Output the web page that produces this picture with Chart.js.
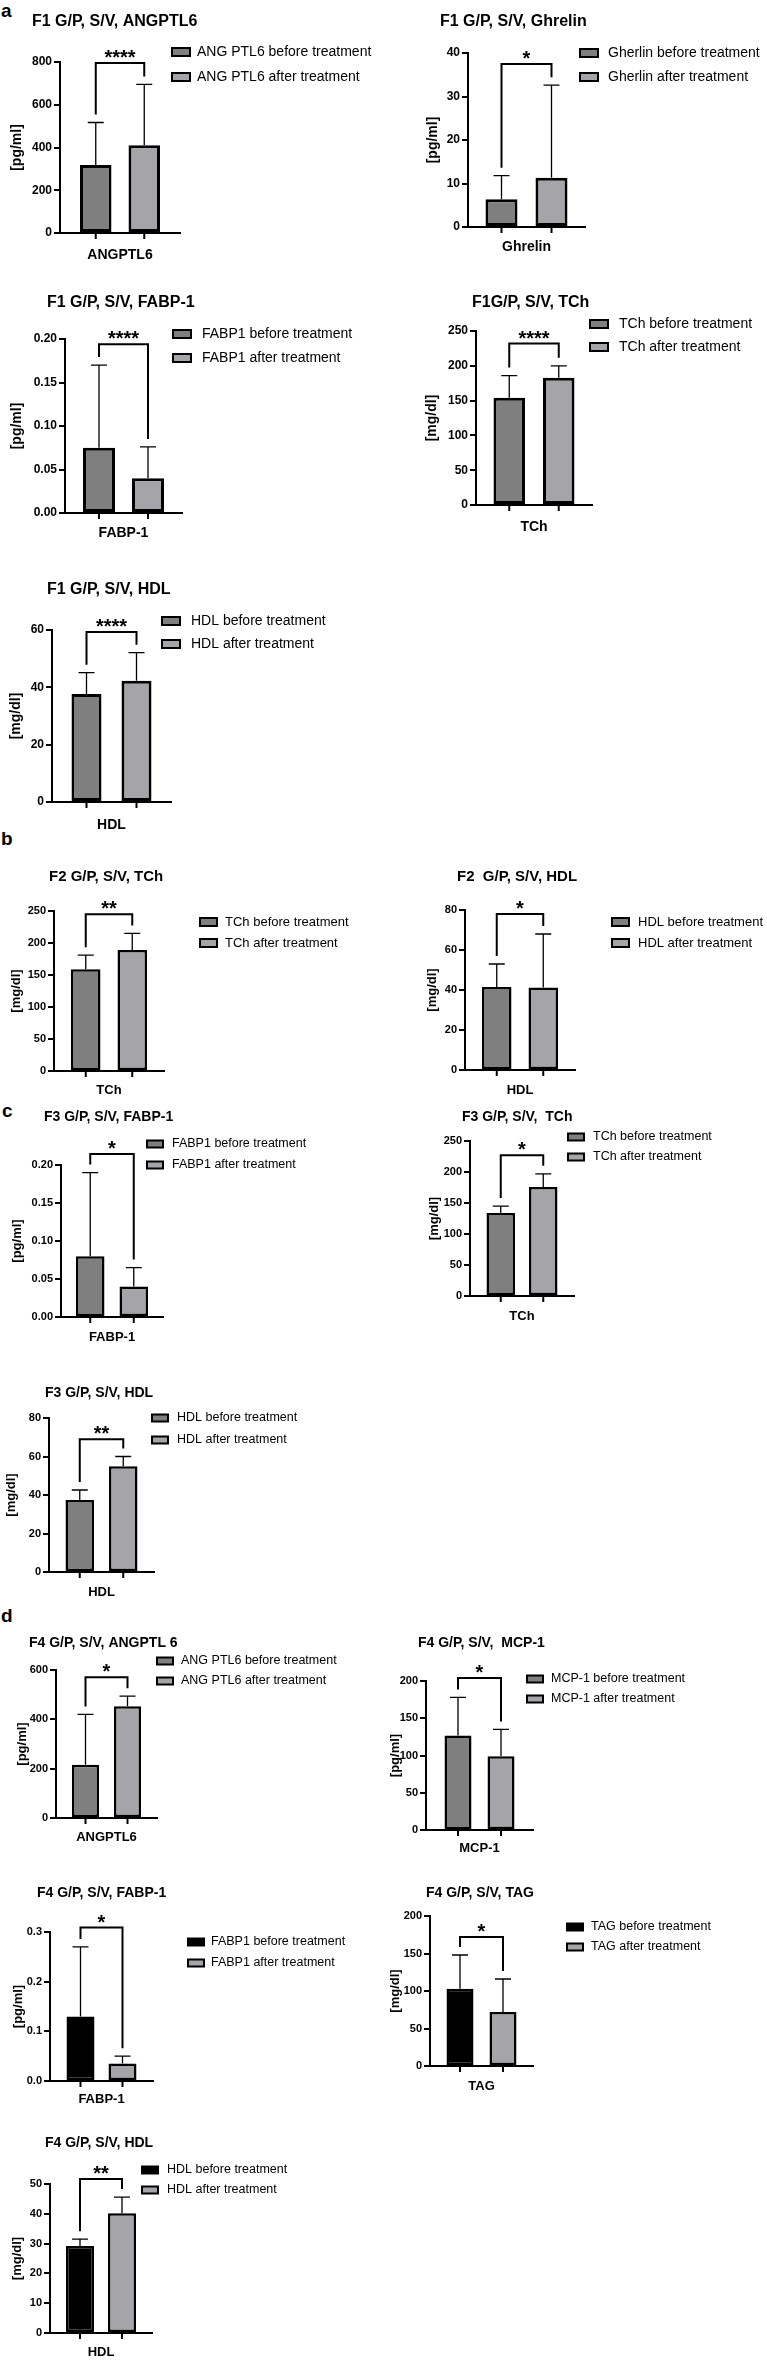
<!DOCTYPE html>
<html lang="en">
<head>
<meta charset="UTF-8">
<title>G/P, S/V markers before and after treatment</title>
<style>
  html, body { margin: 0; padding: 0; background: #fff; }
  body {
    width: 767px;
    height: 2361px;
    position: relative;
    overflow: hidden;
    font-family: "Liberation Sans", Arial, sans-serif;
  }
  .letter {
    position: absolute;
    font-weight: bold;
    font-size: 19px;
    line-height: 19px;
    color: #000;
  }
  canvas { position: absolute; }
</style>
</head>
<body>
<div class="letter" style="left:1px;top:1px">a</div>
<div class="letter" style="left:1px;top:829px">b</div>
<div class="letter" style="left:2px;top:1101px">c</div>
<div class="letter" style="left:1px;top:1606px">d</div>

<script src="https://cdn.jsdelivr.net/npm/chart.js"></script>
<script>
// ---- data ----
const titles = [
  'F1 G/P, S/V, ANGPTL6', 'F1 G/P, S/V, Ghrelin', 'F1 G/P, S/V, FABP-1', 'F1G/P, S/V, TCh', 'F1 G/P, S/V, HDL',
  'F2 G/P, S/V, TCh', 'F2  G/P, S/V, HDL',
  'F3 G/P, S/V, FABP-1', 'F3 G/P, S/V,  TCh', 'F3 G/P, S/V, HDL',
  'F4 G/P, S/V, ANGPTL 6', 'F4 G/P, S/V,  MCP-1', 'F4 G/P, S/V, FABP-1', 'F4 G/P, S/V, TAG', 'F4 G/P, S/V, HDL'
];
const categories = ['ANGPTL6', 'Ghrelin', 'FABP-1', 'TCh', 'HDL', 'TCh', 'HDL', 'FABP-1', 'TCh', 'HDL',
  'ANGPTL6', 'MCP-1', 'FABP-1', 'TAG', 'HDL'];
const units = ['[pg/ml]', '[pg/ml]', '[pg/ml]', '[mg/dl]', '[mg/dl]', '[mg/dl]', '[mg/dl]', '[pg/ml]',
  '[mg/dl]', '[mg/dl]', '[pg/ml]', '[pg/ml]', '[pg/ml]', '[mg/dl]', '[mg/dl]'];
const legendNames = ['ANG PTL6', 'Gherlin', 'FABP1', 'TCh', 'HDL', 'TCh', 'HDL', 'FABP1', 'TCh', 'HDL',
  'ANG PTL6', 'MCP-1', 'FABP1', 'TAG', 'HDL'];

const beforeMeans = [318, 6.4, 0.075, 154, 37.7, 159, 41.5, 0.08, 134, 37.4, 216, 127, 0.13, 103, 29.2];
const beforeSD    = [199, 5.4, 0.095, 32, 7.4, 22, 11.5, 0.11, 11, 5.2, 204, 51, 0.14, 45, 2.3];
const afterMeans  = [411, 11.3, 0.040, 183, 42.3, 189, 41.3, 0.04, 176, 55, 453, 99, 0.035, 72, 40.2];
const afterSD     = [284, 21.3, 0.036, 17, 9.8, 26, 26.7, 0.025, 21, 5, 41, 36, 0.015, 44, 5.4];

const significance  = ['****', '*', '****', '****', '****', '**', '*', '*', '*', '**', '*', '*', '*', '*', '**'];
const bracketLevels = [795, 37.5, 0.194, 232, 59.3, 245, 78, 0.2145, 227, 69, 571, 204, 0.309, 172, 51.7];

const yMax      = [800, 40, 0.20, 250, 60, 250, 80, 0.20, 250, 80, 600, 200, 0.3, 200, 50];
const yStep     = [200, 10, 0.05, 50, 20, 50, 20, 0.05, 50, 20, 200, 50, 0.1, 50, 10];
const yDecimals = [0, 0, 2, 0, 0, 0, 0, 2, 0, 0, 0, 0, 1, 0, 0];

// ---- layout (page pixels) ----
const layout = [
  {axL: 60,  axR: 180, pTop: 62,   pZero: 233,  titleX: 32,  titleY: 22,   yTitleX: 17,  legBox: 172, legText: 197, legY: [52, 77],     catY: 255,  gap: 48.5, barW: 31.5, st: 'a'},
  {axL: 468, axR: 585, pTop: 53,   pZero: 227,  titleX: 440, titleY: 22,   yTitleX: 433, legBox: 580, legText: 608, legY: [53, 77],     catY: 247,  gap: 50,   barW: 32,   st: 'a'},
  {axL: 65,  axR: 182, pTop: 339,  pZero: 513,  titleX: 47,  titleY: 303,  yTitleX: 17,  legBox: 173, legText: 202, legY: [334, 358],   catY: 533,  gap: 49,   barW: 32,   st: 'a'},
  {axL: 476, axR: 592, pTop: 331,  pZero: 505,  titleX: 472, titleY: 303,  yTitleX: 432, legBox: 590, legText: 619, legY: [324, 347],   catY: 527,  gap: 49.5, barW: 31.5, st: 'a'},
  {axL: 52,  axR: 171, pTop: 630,  pZero: 802,  titleX: 47,  titleY: 590,  yTitleX: 16,  legBox: 162, legText: 191, legY: [621, 644],   catY: 825,  gap: 50,   barW: 30,   st: 'a'},
  {axL: 54,  axR: 164, pTop: 911,  pZero: 1071, titleX: 49,  titleY: 877,  yTitleX: 16,  legBox: 200, legText: 225, legY: [922, 943],   catY: 1090, gap: 46.5, barW: 29.5, st: 'b'},
  {axL: 465, axR: 575, pTop: 910,  pZero: 1070, titleX: 457, titleY: 877,  yTitleX: 432, legBox: 612, legText: 638, legY: [922, 943],   catY: 1090, gap: 46.5, barW: 29.5, st: 'b'},
  {axL: 61,  axR: 163, pTop: 1165, pZero: 1317, titleX: 44,  titleY: 1117, yTitleX: 17,  legBox: 147, legText: 172, legY: [1144, 1165], catY: 1337, gap: 43.5, barW: 28.5, st: 'c'},
  {axL: 470, axR: 574, pTop: 1141, pZero: 1296, titleX: 462, titleY: 1117, yTitleX: 434, legBox: 568, legText: 593, legY: [1137, 1157], catY: 1316, gap: 42.5, barW: 28.5, st: 'c'},
  {axL: 49,  axR: 154, pTop: 1418, pZero: 1572, titleX: 45,  titleY: 1393, yTitleX: 11,  legBox: 152, legText: 177, legY: [1418, 1440], catY: 1592, gap: 43.5, barW: 28.5, st: 'c'},
  {axL: 56,  axR: 157, pTop: 1670, pZero: 1818, titleX: 29,  titleY: 1643, yTitleX: 22,  legBox: 157, legText: 181, legY: [1661, 1681], catY: 1837, gap: 42,   barW: 27,   st: 'c'},
  {axL: 426, axR: 533, pTop: 1681, pZero: 1830, titleX: 418, titleY: 1643, yTitleX: 395, legBox: 527, legText: 551, legY: [1679, 1699], catY: 1848, gap: 43,   barW: 27,   st: 'c'},
  {axL: 50,  axR: 153, pTop: 1932, pZero: 2081, titleX: 37,  titleY: 1893, yTitleX: 18,  legBox: 188, legText: 211, legY: [1942, 1963], catY: 2099, gap: 42,   barW: 28,   st: 'c', dark: true},
  {axL: 430, axR: 533, pTop: 1916, pZero: 2066, titleX: 426, titleY: 1893, yTitleX: 395, legBox: 567, legText: 591, legY: [1927, 1947], catY: 2086, gap: 43,   barW: 27,   st: 'c', dark: true},
  {axL: 50,  axR: 152, pTop: 2184, pZero: 2333, titleX: 45,  titleY: 2143, yTitleX: 17,  legBox: 142, legText: 167, legY: [2170, 2190], catY: 2352, gap: 42,   barW: 28,   st: 'c', dark: true}
];

const styles = {
  a: {title: 16, legend: 14,   tick: 12, yTitle: 14, cat: 14, border: 3,   box: [18, 8]},
  b: {title: 15, legend: 13,   tick: 11, yTitle: 13, cat: 13, border: 2.5, box: [17, 8]},
  c: {title: 14, legend: 12.5, tick: 11, yTitle: 13, cat: 13, border: 2.5, box: [16, 7]}
};

const FONT = '"Liberation Sans", Arial, sans-serif';
const GRAY_DARK = '#7f7f7f';
const GRAY_LIGHT = '#a5a5a9';
Chart.defaults.font.family = FONT;
Chart.defaults.color = '#000';

// error bars, bracket, x ticks, title and legend
const decor = {
  id: 'decor',
  afterDatasetsDraw(chart, args, opts) {
    const i = opts.index;
    const y = chart.scales.y;
    const ctx = chart.ctx;
    const means = [beforeMeans[i], afterMeans[i]];
    const sds = [beforeSD[i], afterSD[i]];
    const bars = [0, 1].map(k => chart.getDatasetMeta(k).data[0]);
    const tops = bars.map((b, k) => y.getPixelForValue(means[k] + sds[k]));

    ctx.save();
    ctx.strokeStyle = '#000';
    ctx.lineWidth = 1.3;
    bars.forEach((b, k) => {
      ctx.beginPath();
      ctx.moveTo(b.x, b.y);
      ctx.lineTo(b.x, tops[k]);
      ctx.moveTo(b.x - 8, tops[k]);
      ctx.lineTo(b.x + 8, tops[k]);
      ctx.stroke();
    });

    // tick marks under each bar
    ctx.lineWidth = 2;
    const bottom = chart.chartArea.bottom;
    bars.forEach(b => {
      ctx.beginPath();
      ctx.moveTo(b.x, bottom);
      ctx.lineTo(b.x, bottom + 6);
      ctx.stroke();
    });

    // significance bracket
    const by = y.getPixelForValue(bracketLevels[i]);
    ctx.beginPath();
    ctx.moveTo(bars[0].x, tops[0] - 8);
    ctx.lineTo(bars[0].x, by);
    ctx.lineTo(bars[1].x, by);
    ctx.lineTo(bars[1].x, tops[1] - 8);
    ctx.stroke();
    ctx.fillStyle = '#000';
    ctx.font = 'bold 20px ' + FONT;
    ctx.textAlign = 'center';
    ctx.textBaseline = 'alphabetic';
    ctx.fillText(significance[i], (bars[0].x + bars[1].x) / 2, by + 1);
    ctx.restore();
  },
  afterDraw(chart, args, opts) {
    const i = opts.index;
    const L = layout[i];
    const st = styles[L.st];
    const ctx = chart.ctx;
    ctx.save();
    ctx.fillStyle = '#000';
    ctx.textAlign = 'left';
    ctx.textBaseline = 'middle';
    ctx.font = 'bold ' + st.title + 'px ' + FONT;
    ctx.fillText(titles[i], L.titleX - opts.left, L.titleY - opts.top);

    ctx.font = st.legend + 'px ' + FONT;
    chart.data.datasets.forEach((ds, k) => {
      const yy = L.legY[k] - opts.top;
      const bx = L.legBox - opts.left;
      ctx.fillStyle = ds.backgroundColor;
      ctx.fillRect(bx, yy - st.box[1] / 2, st.box[0], st.box[1]);
      ctx.strokeStyle = '#000';
      ctx.lineWidth = 2;
      ctx.strokeRect(bx, yy - st.box[1] / 2, st.box[0], st.box[1]);
      ctx.fillStyle = '#000';
      ctx.fillText(ds.label, L.legText - opts.left, yy);
    });
    ctx.restore();
  }
};

layout.forEach((L, i) => {
  const st = styles[L.st];
  const left = L.axL < 380 ? 0 : 380;
  const width = left === 0 ? 380 : 387;
  const top = L.titleY - 14;
  const height = Math.min(L.catY + 13, 2361) - top;
  const W = L.axR - L.axL;

  const cv = document.createElement('canvas');
  cv.width = width;
  cv.height = height;
  cv.style.left = left + 'px';
  cv.style.top = top + 'px';
  cv.style.width = width + 'px';
  cv.style.height = height + 'px';
  document.body.appendChild(cv);

  new Chart(cv, {
    type: 'bar',
    data: {
      labels: [categories[i]],
      datasets: [
        {
          label: legendNames[i] + ' before treatment',
          data: [beforeMeans[i]],
          backgroundColor: L.dark ? '#000000' : GRAY_DARK
        },
        {
          label: legendNames[i] + ' after treatment',
          data: [afterMeans[i]],
          backgroundColor: GRAY_LIGHT
        }
      ]
    },
    options: {
      responsive: false,
      animation: false,
      devicePixelRatio: 1,
      events: [],
      layout: {
        padding: {top: L.pTop - top, left: 0, bottom: 0, right: width - (L.axR - left)}
      },
      datasets: {
        bar: {
          categoryPercentage: 2 * L.gap / W,
          barPercentage: L.barW / L.gap,
          borderColor: '#000',
          borderWidth: st.border,
          borderSkipped: false
        }
      },
      plugins: {
        legend: {display: false},
        tooltip: {enabled: false},
        decor: {index: i, left: left, top: top}
      },
      scales: {
        x: {
          ticks: {
            font: {size: st.cat, weight: 'bold'},
            color: '#000',
            padding: L.catY - L.pZero - st.cat * 0.6
          },
          grid: {display: false, drawTicks: false},
          border: {display: true, color: '#000', width: 2},
          afterFit: s => { s.height = height - (L.pZero - top); }
        },
        y: {
          min: 0,
          max: yMax[i],
          ticks: {
            stepSize: yStep[i],
            font: {size: st.tick, weight: 'bold'},
            color: '#000',
            padding: 2,
            callback: v => Number(v).toFixed(yDecimals[i])
          },
          grid: {display: true, drawOnChartArea: false, drawTicks: true, tickLength: 6, color: '#000', lineWidth: 2},
          border: {display: true, color: '#000', width: 2},
          title: {
            display: true,
            text: units[i],
            font: {size: st.yTitle, weight: 'bold'},
            color: '#000',
            padding: {top: Math.max(0, L.yTitleX - left - st.yTitle * 0.6), bottom: 0}
          },
          afterFit: s => { s.width = L.axL - left; }
        }
      }
    },
    plugins: [decor]
  });
});
</script>
</body>
</html>
